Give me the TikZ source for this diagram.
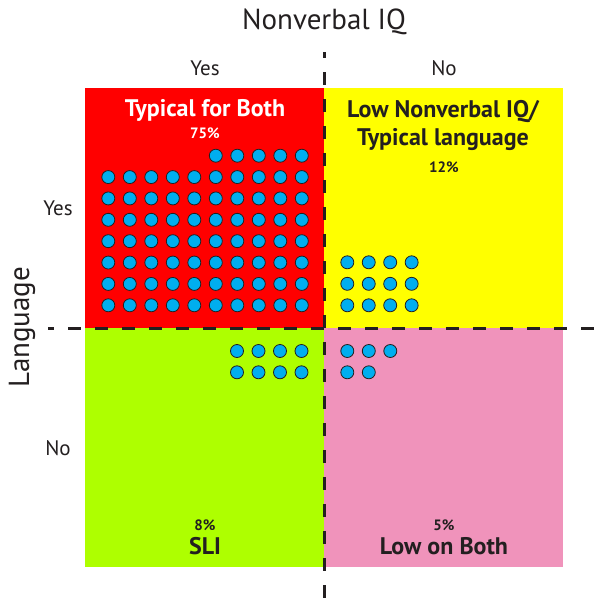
\documentclass[tikz,border=0pt]{standalone}
\usepackage{fontspec}
\setmainfont{PT Sans}
\usepackage{tikz}
\usetikzlibrary{positioning}
\definecolor{inkgray}{HTML}{231F20}
\definecolor{dotblue}{HTML}{00AEEF}
\definecolor{bothred}{HTML}{FF0000}
\definecolor{iqyellow}{HTML}{FFFF00}
\definecolor{sligreen}{HTML}{AEFF00}
\definecolor{lowpink}{HTML}{F093BB}

\begin{document}
\begin{tikzpicture}[
    x=1pt, y=-1pt,
    text=inkgray,
    font=\fontsize{21}{24}\selectfont,
    %
    quad/.style={draw=none, rectangle, anchor=north west, inner sep=0pt,
                 minimum width=239pt, minimum height=239.5pt},
    dot/.style={draw=inkgray, circle, fill=dotblue, line width=0.8pt,
                minimum size=13pt, inner sep=0pt},
    divider/.style={draw=inkgray, line width=3pt, dash pattern=on 13pt off 14pt, dash phase=7pt},
    axis/.style={font=\fontsize{29}{32}\selectfont},
    title/.style={font=\bfseries\fontsize{24}{28}\selectfont, align=center},
    pct/.style={font=\bfseries\fontsize{15}{17}\selectfont}
    ]

    \useasboundingbox (0,0) rectangle (598,603);

    % quadrants
    \node[quad, fill=bothred]  (both) at (85,88)    {};
    \node[quad, fill=iqyellow] (iq)   at (324,88)   {};
    \node[quad, fill=sligreen] (sli)  at (85,327.5) {};
    \node[quad, fill=lowpink]  (low)  at (324,327.5) {};

    % dots
    \foreach \c in {5,...,9} {
        \node[dot] (both-t\c) at (108.3+21.5*\c,155.7) {};
    }
    \foreach \r in {1,...,7} {
        \foreach \c in {0,...,9} {
            \node[dot] (both-\r-\c) at (108.3+21.5*\c,155.7+21.37*\r) {};
        }
    }
    \foreach \r in {0,1,2} {
        \foreach \c in {0,...,3} {
            \node[dot] (iq-\r-\c) at (347.3+21.45*\c,262.3+21.5*\r) {};
        }
    }
    \foreach \r in {0,1} {
        \foreach \c in {0,...,3} {
            \node[dot] (sli-\r-\c) at (237+21.5*\c,351+21.3*\r) {};
        }
    }
    \foreach \c in {0,1,2} {
        \node[dot] (low-0-\c) at (347.3+21.5*\c,351) {};
    }
    \foreach \c in {0,1} {
        \node[dot] (low-1-\c) at (347.3+21.5*\c,372.3) {};
    }

    % labels inside
    \node[title, text=white]         (bothname) at (205,110) {Typical for Both};
    \node[pct, text=white]           (bothpct)  at (205,133) {75\%};
    \node[title, inner sep=0pt]      (iqname)   at (443,125) {Low Nonverbal IQ/\\Typical language};
    \node[pct]                       (iqpct)    at (444,167) {12\%};
    \node[pct]                       (slipct)   at (205,525) {8\%};
    \node[title]                     (sliname)  at (205,546) {SLI};
    \node[pct]                       (lowpct)   at (444,525) {5\%};
    \node[title]                     (lowname)  at (444,546) {Low on Both};

    % axes
    \node[axis]            (iqaxis)   at (324,22)  {Nonverbal IQ};
    \node                  (iqyes)    at (205,68)  {Yes};
    \node                  (iqno)     at (444,68)  {No};
    \node[axis, rotate=90] (langaxis) at (22,327)  {Language};
    \node                  (langyes)  at (58,208)  {Yes};
    \node                  (langno)   at (58,448)  {No};

    % dividers
    \coordinate (vtop) at (324,52);
    \coordinate (vbot) at (324,603);
    \coordinate (hleft) at (48,328);
    \coordinate (hright) at (598,328);
    \draw[divider] (vtop) -- (vbot);
    \draw[divider] (hleft) -- (hright);

\end{tikzpicture}
\end{document}
